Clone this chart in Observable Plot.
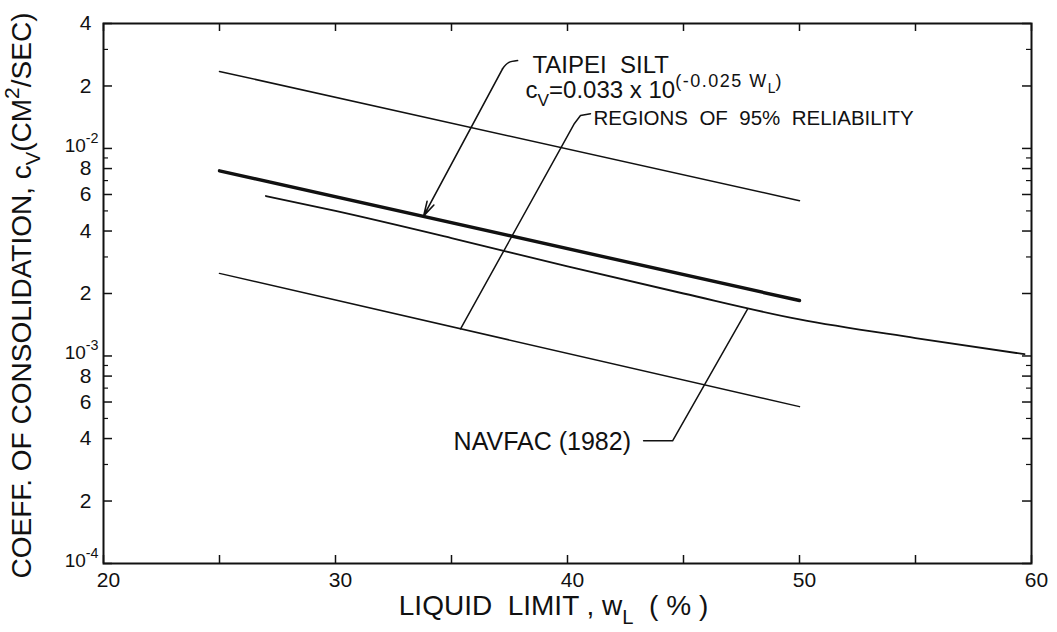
<!DOCTYPE html>
<html>
<head>
<meta charset="utf-8">
<script src="https://cdn.jsdelivr.net/npm/d3@7"></script>
<script src="https://cdn.jsdelivr.net/npm/@observablehq/plot@0.6"></script>
<style>
  body { margin: 0; background: #fff; }
  svg text { white-space: pre; }
</style>
</head>
<body>
<div id="chart"></div>
<script>
// ---------- data ----------
const upperBoundWL = [25, 50];
const upperBoundCv = [2.35e-2, 5.6e-3];

const taipeiWL = [25, 50];
const taipeiCv = [7.8e-3, 1.85e-3];

const lowerBoundWL = [25, 50];
const lowerBoundCv = [2.5e-3, 5.7e-4];

const navfacWL = [27, 30, 35, 40, 45, 50, 55, 59.7];
const navfacCv = [5.9e-3, 5.0e-3, 3.7e-3, 2.7e-3, 2.0e-3, 1.5e-3, 1.22e-3, 1.02e-3];

const xTickValues = [20, 30, 40, 50, 60];
const xTickLabels = ["20", "30", "40", "50", "60"];
const xMinorTicks = [20, 25, 30, 35, 40, 45, 50, 55, 60];

const yTickValues = [4e-2, 2e-2, 1e-2, 8e-3, 6e-3, 4e-3, 2e-3, 1e-3, 8e-4, 6e-4, 4e-4, 2e-4, 1e-4];
const yPlainTicks = [4e-2, 2e-2, 8e-3, 6e-3, 4e-3, 2e-3, 8e-4, 6e-4, 4e-4, 2e-4];
const yPlainLabels = ["4", "2", "8", "6", "4", "2", "8", "6", "4", "2"];
const yDecadeTicks = [1e-2, 1e-3, 1e-4];
const yDecadeLabels = ["10^-2", "10^-3", "10^-4"];
const yMinorTicks = [3e-2, 9e-3, 7e-3, 5e-3, 3e-3, 9e-4, 7e-4, 5e-4, 3e-4];

// annotations (data coordinates)
const taipeiHookWL = [37.85, 37.46, 37.2];
const taipeiHookCv = [2.65e-2, 2.59e-2, 2.42e-2];
const taipeiArrowFrom = [37.2, 2.42e-2];
const taipeiArrowTo = [33.8, 4.73e-3];

const regionsLeaderWL = [40.99, 40.56, 40.30, 35.39];
const regionsLeaderCv = [1.47e-2, 1.44e-2, 1.32e-2, 1.35e-3];

const navfacLeaderWL = [43.28, 44.53, 47.76];
const navfacLeaderCv = [3.9e-4, 3.9e-4, 1.68e-3];

const labelTexts = ["TAIPEI  SILT", "FORMULA", "REGIONS  OF  95%  RELIABILITY", "NAVFAC (1982)"];
const labelWL = [38.49, 38.19, 41.12, 35.09];
const labelCv = [2.51e-2, 1.90e-2, 1.39e-2, 3.86e-4];
const labelSizes = [24, 24, 20.5, 25];

const xTitle = "LIQUID  LIMIT , wL  ( % )";
const yTitle = "COEFF. OF CONSOLIDATION, cV(CM2/SEC)";

// ---------- layout ----------
const W = 1057, H = 632;
const mL = 103, mR = 26, mT = 23, mB = 69;
const plotW = W - mL - mR, plotH = H - mT - mB;
const ink = "#111";
const font = "Liberation Sans, Arial, sans-serif";

const chart = Plot.plot({
  width: W,
  height: H,
  marginLeft: mL,
  marginRight: mR,
  marginTop: mT,
  marginBottom: mB,
  style: {fontFamily: font, background: "#fff", color: ink, overflow: "visible"},
  x: {domain: [20, 60], axis: null},
  y: {type: "log", domain: [1e-4, 4e-2], axis: null},
  marks: [
    // inward ticks
    Plot.ruleX(xMinorTicks, {x: d => d, insetTop: plotH - 8, stroke: ink, strokeWidth: 1.5}),
    Plot.ruleX(xMinorTicks, {x: d => d, insetBottom: plotH - 8, stroke: ink, strokeWidth: 1.5}),
    Plot.ruleY(yTickValues, {y: d => d, insetRight: plotW - 9, stroke: ink, strokeWidth: 1.5}),
    Plot.ruleY(yTickValues, {y: d => d, insetLeft: plotW - 9, stroke: ink, strokeWidth: 1.5}),
    Plot.ruleY(yMinorTicks, {y: d => d, insetRight: plotW - 5, stroke: ink, strokeWidth: 1.2}),
    Plot.ruleY(yMinorTicks, {y: d => d, insetLeft: plotW - 5, stroke: ink, strokeWidth: 1.2}),
    Plot.frame({stroke: ink, strokeWidth: 2}),

    // tick labels
    Plot.text(xTickValues, {x: d => d, text: (d, i) => xTickLabels[i], frameAnchor: "bottom", dy: 23, dx: 5, fontSize: 21, fill: ink}),
    Plot.text(yPlainTicks, {y: d => d, text: (d, i) => yPlainLabels[i], frameAnchor: "left", textAnchor: "end", dx: -12, fontSize: 21, fill: ink}),
    Plot.text(yDecadeTicks, {y: d => d, text: (d, i) => yDecadeLabels[i], frameAnchor: "left", textAnchor: "end", dx: -5, dy: -3, fontSize: 19, fill: ink}),

    // axis titles
    Plot.text([xTitle], {text: d => d, frameAnchor: "bottom", textAnchor: "middle", dy: 51, dx: -14, fontSize: 28, fill: ink}),
    Plot.text([yTitle], {text: d => d, frameAnchor: "left", textAnchor: "middle", rotate: -90, dx: -81, dy: 2, fontSize: 28, fill: ink}),

    // data lines
    Plot.line(upperBoundCv, {x: upperBoundWL, y: upperBoundCv, stroke: ink, strokeWidth: 1.5}),
    Plot.line(lowerBoundCv, {x: lowerBoundWL, y: lowerBoundCv, stroke: ink, strokeWidth: 1.5}),
    Plot.line(navfacCv, {x: navfacWL, y: navfacCv, stroke: ink, strokeWidth: 1.8, curve: "monotone-x"}),
    Plot.line(taipeiCv, {x: taipeiWL, y: taipeiCv, stroke: ink, strokeWidth: 3.4}),

    // leaders
    Plot.line(taipeiHookCv, {x: taipeiHookWL, y: taipeiHookCv, stroke: ink, strokeWidth: 1.5, curve: "natural"}),
    Plot.arrow([0], {x1: () => taipeiArrowFrom[0], y1: () => taipeiArrowFrom[1], x2: () => taipeiArrowTo[0], y2: () => taipeiArrowTo[1], stroke: ink, strokeWidth: 1.6, headLength: 14, headAngle: 30}),
    Plot.line(regionsLeaderCv, {x: regionsLeaderWL, y: regionsLeaderCv, stroke: ink, strokeWidth: 1.5}),
    Plot.line(navfacLeaderCv, {x: navfacLeaderWL, y: navfacLeaderCv, stroke: ink, strokeWidth: 1.5}),

    // labels
    Plot.text(labelTexts, {x: labelWL, y: labelCv, text: d => d, textAnchor: "start", fontSize: (d, i) => labelSizes[i], fill: ink})
  ]
});

document.getElementById("chart").appendChild(chart);

// ---------- rich text (sub/superscripts) ----------
function richify(svg, key, base, parts) {
  const levels = {n: [0, 1], sub: [0.32, 0.72], sup: [-0.45, 0.75], supsub: [-0.2, 0.58]};
  d3.select(svg).selectAll("text").filter(function () { return this.textContent === key; }).each(function () {
    const t = d3.select(this);
    t.text(null);
    let cur = 0;
    for (const [s, lv = "n", ls] of parts) {
      const [off, sc] = levels[lv];
      const target = off * base;
      const ts = t.append("tspan")
        .attr("dy", (target - cur).toFixed(1))
        .attr("font-size", (base * sc).toFixed(1))
        .text(s);
      if (ls) ts.attr("letter-spacing", ls);
      cur = target;
    }
  });
}

richify(chart, "FORMULA", 24, [["c"], ["V", "sub"], ["=0.033 x 10"], ["(-0.025 W", "sup", 1.5], ["L", "supsub"], [")", "sup"]]);
richify(chart, xTitle, 28, [["LIQUID  LIMIT , w"], ["L", "sub"], ["  ( % )"]]);
richify(chart, yTitle, 28, [["COEFF. OF CONSOLIDATION, c"], ["V", "sub"], ["(CM"], ["2", "sup"], ["/SEC)"]]);
for (const e of ["2", "3", "4"]) {
  richify(chart, "10^-" + e, 19, [["10"], ["-" + e, "sup"]]);
}
</script>
</body>
</html>
